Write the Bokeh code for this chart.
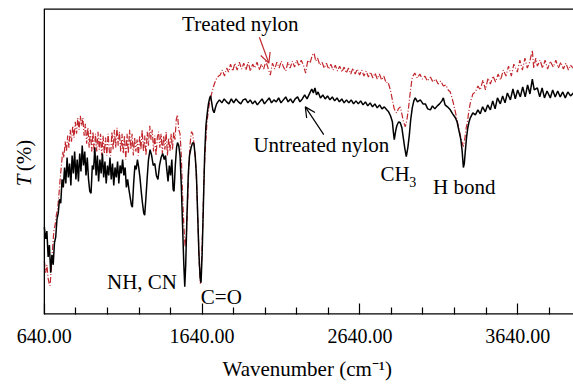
import math
from bokeh.plotting import figure
from bokeh.models import (Range1d, FixedTicker, PrintfTickFormatter, Label, Arrow,
                          OpenHead, ColumnDataSource, Title)
from bokeh.embed import file_html
from bokeh.resources import INLINE

# ---------------- data: (wavenumber cm^-1, transmittance in arbitrary units) ----------------
untreated = [
    (640, 88), (648, 76), (656, 84), (664, 58), (672, 70), (680, 42), (688, 60), (696, 50), (704, 72),
    (712, 78), (720, 96), (728, 102), (736, 116), (744, 112), (752, 136), (760, 128), (768, 148), (776, 132),
    (784, 158), (792, 138), (800, 152), (808, 130), (816, 160), (824, 142), (832, 164), (840, 136), (848, 156),
    (856, 134), (864, 162), (872, 144), (880, 170), (888, 150), (896, 164), (904, 140), (912, 158), (920, 136),
    (928, 124), (936, 122), (944, 150), (952, 146), (960, 168), (968, 140), (976, 160), (984, 134), (992, 156),
    (1000, 142), (1008, 162), (1016, 138), (1024, 154), (1032, 132), (1040, 150), (1048, 140), (1056, 158),
    (1064, 136), (1072, 152), (1080, 130), (1088, 148), (1096, 138), (1104, 154), (1112, 132), (1120, 150),
    (1128, 142), (1136, 156), (1144, 140), (1152, 148), (1160, 128), (1168, 136), (1176, 126), (1184, 118),
    (1192, 110), (1198, 108), (1206, 132), (1214, 150), (1222, 146), (1230, 156), (1238, 148), (1246, 138),
    (1254, 124), (1262, 112), (1270, 102), (1276, 100), (1284, 118), (1292, 138), (1300, 156), (1310, 166),
    (1320, 160), (1330, 150), (1340, 152), (1350, 140), (1360, 136), (1370, 150), (1380, 158), (1390, 162),
    (1400, 156), (1408, 160), (1416, 146), (1424, 134), (1432, 150), (1440, 140), (1448, 156), (1456, 126),
    (1462, 124), (1470, 150), (1478, 168), (1484, 173), (1492, 170), (1500, 160), (1508, 130), (1516, 90),
    (1524, 50), (1530, 28), (1536, 50), (1544, 100), (1552, 140), (1560, 160), (1570, 168), (1580, 173),
    (1588, 172), (1596, 160), (1604, 140), (1612, 100), (1620, 60), (1628, 36), (1633, 32), (1640, 60),
    (1648, 110), (1656, 160), (1664, 190), (1672, 202), (1680, 212), (1688, 218), (1694, 220), (1700, 214),
    (1708, 206), (1716, 203), (1724, 208), (1732, 212), (1740, 214), (1750, 216), (1765, 213), (1780, 217),
    (1795, 214), (1810, 212), (1825, 217), (1840, 213), (1855, 217), (1870, 214), (1885, 212), (1900, 216),
    (1915, 217), (1930, 213), (1945, 216), (1960, 212), (1975, 215), (1990, 211), (2005, 214), (2020, 217),
    (2035, 212), (2050, 215), (2065, 218), (2080, 213), (2095, 216), (2110, 214), (2125, 218), (2140, 213),
    (2155, 216), (2170, 219), (2185, 214), (2200, 217), (2215, 213), (2230, 217), (2245, 219), (2260, 214),
    (2275, 217), (2290, 221), (2305, 217), (2320, 222), (2335, 227), (2345, 223), (2355, 228), (2365, 221),
    (2375, 224), (2390, 218), (2405, 221), (2420, 217), (2435, 220), (2450, 216), (2465, 219), (2480, 215),
    (2495, 218), (2510, 214), (2525, 217), (2540, 213), (2555, 216), (2570, 213), (2585, 216), (2600, 212),
    (2615, 215), (2630, 212), (2645, 215), (2660, 211), (2675, 214), (2690, 210), (2705, 213), (2720, 209),
    (2735, 212), (2750, 208), (2765, 211), (2780, 207), (2795, 209), (2810, 206), (2822, 204), (2834, 200),
    (2846, 194), (2852, 184), (2858, 176), (2866, 184), (2874, 190), (2886, 194), (2896, 193), (2906, 188),
    (2915, 178), (2924, 168), (2934, 159), (2944, 168), (2953, 180), (2962, 196), (2972, 208), (2982, 215),
    (2991, 218), (3005, 214), (3023, 216), (3040, 212), (3055, 212), (3070, 207), (3087, 206), (3100, 210),
    (3115, 207), (3131, 210), (3145, 212), (3160, 215), (3169, 218), (3180, 211), (3195, 209), (3213, 206),
    (3228, 202), (3245, 198), (3256, 194), (3264, 188), (3272, 182), (3280, 176), (3288, 165), (3296, 148),
    (3302, 152), (3308, 164), (3316, 178), (3324, 188), (3332, 194), (3340, 198), (3356, 203), (3372, 201),
    (3388, 206), (3403, 202), (3418, 209), (3435, 204), (3450, 211), (3467, 206), (3482, 215), (3497, 207),
    (3512, 218), (3530, 212), (3545, 220), (3560, 213), (3575, 223), (3594, 216), (3610, 227), (3625, 217),
    (3640, 226), (3657, 219), (3672, 229), (3688, 219), (3703, 231), (3718, 222), (3733, 237), (3745, 226),
    (3765, 228), (3780, 219), (3795, 228), (3810, 218), (3826, 225), (3847, 218), (3862, 226), (3878, 219),
    (3894, 225), (3910, 219), (3926, 224), (3942, 218), (3958, 224), (3975, 220), (3993, 223), (4000, 222),
]

treated = [
    (640, 54), (648, 42), (656, 50), (664, 36), (672, 30), (676, 29), (684, 46), (692, 66), (700, 84),
    (708, 90), (716, 100), (724, 106), (732, 120), (740, 136), (748, 150), (756, 164), (764, 158), (772, 174),
    (780, 164), (788, 180), (796, 168), (804, 186), (812, 174), (820, 190), (828, 178), (836, 194), (844, 182),
    (852, 198), (860, 186), (868, 200), (876, 190), (884, 198), (892, 180), (900, 192), (908, 172), (916, 188),
    (924, 168), (932, 186), (940, 164), (948, 184), (956, 162), (964, 182), (972, 164), (980, 184), (988, 166),
    (996, 182), (1004, 160), (1012, 180), (1020, 162), (1028, 178), (1036, 160), (1044, 182), (1052, 164),
    (1060, 160), (1068, 184), (1076, 166), (1084, 186), (1092, 168), (1100, 188), (1108, 170), (1116, 184),
    (1124, 164), (1132, 182), (1140, 162), (1148, 180), (1156, 156), (1164, 182), (1172, 162), (1180, 186),
    (1188, 166), (1196, 182), (1204, 160), (1212, 178), (1220, 164), (1228, 176), (1236, 160), (1244, 180),
    (1252, 166), (1260, 186), (1268, 164), (1276, 180), (1284, 160), (1292, 184), (1300, 170), (1308, 190),
    (1316, 176), (1324, 186), (1332, 164), (1340, 180), (1348, 160), (1356, 178), (1364, 184), (1372, 168),
    (1380, 182), (1388, 162), (1396, 180), (1404, 166), (1412, 184), (1420, 160), (1428, 178), (1436, 164),
    (1444, 182), (1452, 166), (1460, 184), (1468, 176), (1476, 196), (1484, 201), (1492, 186), (1500, 182),
    (1508, 160), (1516, 120), (1524, 90), (1532, 68), (1540, 80), (1548, 110), (1556, 150), (1564, 172),
    (1572, 184), (1580, 182), (1590, 170), (1600, 150), (1608, 120), (1616, 80), (1622, 50), (1629, 31),
    (1636, 52), (1644, 90), (1652, 140), (1660, 166), (1670, 192), (1680, 206), (1690, 216), (1700, 222),
    (1711, 229), (1722, 234), (1733, 238), (1744, 240), (1755, 241), (1768, 246), (1782, 240), (1796, 248),
    (1808, 244), (1820, 252), (1834, 245), (1848, 253), (1862, 246), (1876, 254), (1890, 247), (1904, 253),
    (1918, 246), (1932, 254), (1946, 245), (1960, 252), (1974, 248), (1988, 254), (2002, 246), (2016, 252),
    (2030, 247), (2044, 255), (2058, 248), (2072, 241), (2086, 253), (2100, 247), (2114, 254), (2128, 248),
    (2142, 255), (2156, 249), (2170, 245), (2184, 254), (2198, 248), (2212, 255), (2226, 249), (2240, 256),
    (2254, 250), (2268, 256), (2282, 251), (2296, 243), (2310, 256), (2324, 253), (2338, 261), (2350, 263),
    (2360, 255), (2372, 258), (2386, 251), (2400, 254), (2414, 248), (2428, 253), (2442, 247), (2456, 252),
    (2470, 246), (2484, 251), (2498, 245), (2512, 250), (2526, 244), (2540, 249), (2554, 243), (2568, 248),
    (2582, 242), (2596, 248), (2610, 242), (2624, 247), (2638, 241), (2652, 246), (2666, 240), (2680, 245),
    (2694, 239), (2708, 244), (2722, 238), (2736, 243), (2750, 237), (2764, 242), (2778, 236), (2792, 240),
    (2806, 233), (2818, 234), (2828, 229), (2836, 224), (2846, 216), (2856, 208), (2866, 204), (2874, 203),
    (2884, 207), (2896, 209), (2906, 202), (2916, 194), (2928, 189), (2938, 196), (2947, 206), (2958, 222),
    (2972, 239), (2988, 243), (3004, 238), (3020, 242), (3036, 237), (3052, 240), (3068, 235), (3087, 239),
    (3103, 234), (3120, 237), (3136, 232), (3152, 235), (3169, 230), (3185, 231), (3200, 226), (3213, 224),
    (3224, 218), (3232, 213), (3248, 202), (3264, 189), (3280, 178), (3290, 172), (3296, 169), (3306, 178),
    (3314, 188), (3321, 193), (3330, 204), (3340, 213), (3356, 222), (3372, 224), (3388, 230), (3403, 226),
    (3420, 236), (3436, 226), (3452, 238), (3467, 232), (3484, 240), (3500, 234), (3516, 242), (3532, 236),
    (3549, 246), (3566, 240), (3582, 250), (3600, 240), (3616, 252), (3638, 244), (3654, 256), (3670, 246),
    (3686, 258), (3701, 248), (3716, 254), (3733, 266), (3742, 248), (3755, 258), (3765, 250), (3782, 256),
    (3798, 248), (3814, 256), (3830, 247), (3846, 255), (3866, 249), (3882, 256), (3898, 248), (3914, 254),
    (3930, 247), (3946, 253), (3962, 246), (3974, 251), (3993, 248), (4000, 249),
]

major_ticks = [640, 1640, 2640, 3640]
minor_ticks = [840, 1040, 1240, 1440, 1840, 2040, 2240, 2440, 2840, 3040, 3240, 3440, 3840]
tick_labels_fmt = "%.2f"

x_axis_start = 640      # where the drawn frame begins
x_view = (362, 3994)    # visible wavenumber window (left part holds the y title)
t_view = (0, 308)

FONT = "Liberation Serif"
RED = "#c1272d"

p = figure(width=573, height=389, x_range=Range1d(*x_view), y_range=Range1d(*t_view),
           output_backend="svg", toolbar_location=None,
           min_border_left=0, min_border_right=0, min_border_top=8, min_border_bottom=73)
p.outline_line_color = None
p.xgrid.visible = False
p.ygrid.visible = False
p.yaxis.visible = False
p.background_fill_color = "white"
p.border_fill_color = "white"

src_u = ColumnDataSource(dict(x=[a for a, b in untreated], y=[b for a, b in untreated]))
src_t = ColumnDataSource(dict(x=[a for a, b in treated], y=[b for a, b in treated]))
p.line("x", "y", source=src_t, line_color=RED, line_width=1.2, line_dash="6 2 1 2")
p.line("x", "y", source=src_u, line_color="black", line_width=1.5)

# frame lines: left, top (half-clipped -> width 2.6), bottom
p.segment(x0=[x_axis_start, x_axis_start, x_axis_start], y0=[t_view[0], t_view[1], t_view[0]],
          x1=[x_axis_start, x_view[1], x_view[1]], y1=[t_view[1], t_view[1], t_view[0]],
          line_color="black", line_width=[1.3, 2.6, 2.6])

# bottom axis: ticks and labels only
xa = p.xaxis[0]
xa.ticker = FixedTicker(ticks=major_ticks, minor_ticks=minor_ticks)
xa.formatter = PrintfTickFormatter(format=tick_labels_fmt)
xa.axis_line_color = None
xa.major_tick_in = 11
xa.major_tick_out = 0
xa.minor_tick_in = 7
xa.minor_tick_out = 0
xa.major_tick_line_color = "black"
xa.minor_tick_line_color = "black"
xa.major_tick_line_width = 1.2
xa.minor_tick_line_width = 1.2
xa.major_label_text_font = FONT
xa.major_label_text_font_size = "20px"
xa.major_label_text_color = "black"
xa.major_label_standoff = 14

# x-axis title as a below-title, left-aligned with an offset so it is centred on the drawn frame
p.add_layout(Title(text="Wavenumber (cm\u207b\u00b9)", align="left", offset=222,
                   text_font=FONT, text_font_size="21px", text_font_style="normal",
                   text_color="black", standoff=18), "below")


def lab(x, y, text, size="21px", style="normal", align="center", angle=0):
    p.add_layout(Label(x=x, y=y, text=text, text_font=FONT, text_font_size=size,
                       text_font_style=style, text_color="black", text_align=align,
                       text_baseline="middle", angle=angle))


lab(1882, 292, "Treated nylon")
lab(2396, 171, "Untreated nylon")
lab(2770, 141, "CH", align="left")
lab(2953, 133, "3", size="14px", align="left")
lab(3301, 128, "H bond")
lab(1259, 33, "NH, CN")
lab(1762, 18, "C=O")
# y-axis title: italic T and upright (%)
lab(508, 135, "T", style="italic", angle=math.pi / 2)
lab(508, 160, "(%)", angle=math.pi / 2)

p.add_layout(Arrow(end=OpenHead(size=10, line_color=RED, line_width=1.2),
                   x_start=2003, y_start=279, x_end=2063, y_end=253,
                   line_color=RED, line_width=1.2))
p.add_layout(Arrow(end=OpenHead(size=10, line_color="black", line_width=1.2),
                   x_start=2411, y_start=181, x_end=2294, y_end=209,
                   line_color="black", line_width=1.2))

open("out.html", "w").write(file_html(p, INLINE))
